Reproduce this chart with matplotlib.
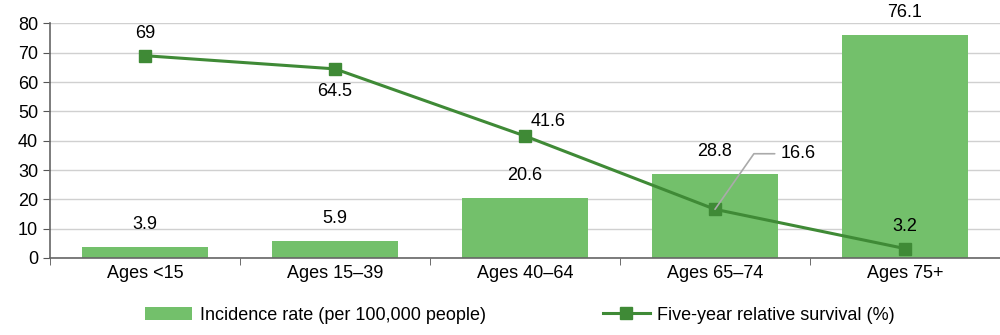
import matplotlib.pyplot as plt
import numpy as np

categories = ['Ages <15', 'Ages 15\u201339', 'Ages 40\u201364', 'Ages 65\u201374', 'Ages 75+']
incidence = [3.9, 5.9, 20.6, 28.8, 76.1]
survival = [69, 64.5, 41.6, 16.6, 3.2]

plt.rcParams['font.family'] = ['Liberation Sans', 'DejaVu Sans']

fig = plt.figure(figsize=(10, 3.35), dpi=100)
ax = fig.add_axes([0.05, 0.23, 0.95, 0.70])

x = np.arange(len(categories))
bar_color = '#73c06b'
line_color = '#3f8a36'

bars = ax.bar(x, incidence, width=0.66, color=bar_color, zorder=2,
              label='Incidence rate (per 100,000 people)')
line, = ax.plot(x, survival, color=line_color, lw=2.2, marker='s', ms=9,
                zorder=3, label='Five-year relative survival (%)')

for i, v in enumerate(incidence):
    ax.annotate(f'{v:g}', (x[i], v), xytext=(0, 10), textcoords='offset points',
                ha='center', va='bottom', fontsize=13)

# survival labels
ax.annotate('69', (x[0], survival[0]), xytext=(0, 10), textcoords='offset points',
            ha='center', va='bottom', fontsize=13)
ax.annotate('64.5', (x[1], survival[1]), xytext=(0, -10), textcoords='offset points',
            ha='center', va='top', fontsize=13)
ax.annotate('41.6', (x[2], survival[2]), xytext=(4, 4), textcoords='offset points',
            ha='left', va='bottom', fontsize=13)
ax.annotate('16.6', (x[3], survival[3]), xytext=(47, 40), textcoords='offset points',
            ha='left', va='center', fontsize=13,
            arrowprops=dict(arrowstyle='-', color='#aaaaaa', lw=1.2,
                            connectionstyle='angle,angleA=0,angleB=55,rad=0',
                            shrinkA=2, shrinkB=0))
ax.annotate('3.2', (x[4], survival[4]), xytext=(0, 10), textcoords='offset points',
            ha='center', va='bottom', fontsize=13)

ax.set_ylim(0, 80)
ax.set_yticks(range(0, 81, 10))
ax.set_xlim(-0.5, 4.5)
ax.set_xticks(x)
ax.set_xticklabels(categories)
ax.set_xticks(np.arange(-0.5, 5, 1), minor=True)
ax.tick_params(axis='x', which='major', length=0, labelsize=13, pad=5)
ax.tick_params(axis='x', which='minor', length=5, color='#555555')
ax.tick_params(axis='y', length=5, color='#555555', labelsize=13)
ax.yaxis.grid(True, color='#d0d0d0', lw=1, zorder=0)
ax.set_axisbelow(True)
for s in ['top', 'right']:
    ax.spines[s].set_visible(False)
for s in ['left', 'bottom']:
    ax.spines[s].set_color('#666666')
    ax.spines[s].set_linewidth(1.2)

fig.legend(handles=[bars, line], loc='lower center', bbox_to_anchor=(0.52, -0.015),
           ncol=2, frameon=False, fontsize=13, columnspacing=6.5,
           handlelength=2.6, handletextpad=0.4)

fig.savefig('out.png', dpi=100)
